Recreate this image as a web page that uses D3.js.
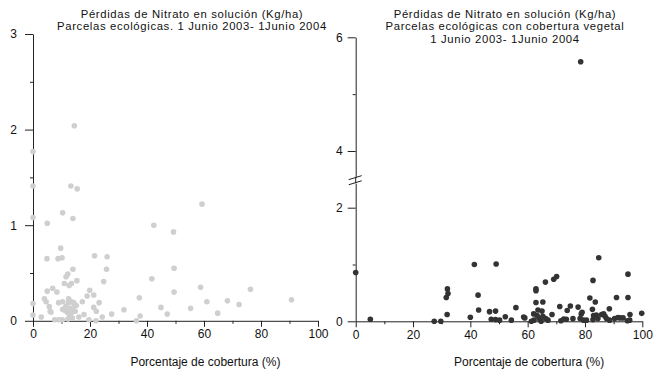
<!DOCTYPE html>
<html lang="es">
	<head>
		<meta charset="utf-8">
		<title>Pérdidas de Nitrato en solución</title>
		<script type="text/javascript" src="https://cdn.jsdelivr.net/npm/d3@7"></script>
		<style type="text/css">
			body { margin: 0; background: #fff; }
			text { font-family: "Liberation Sans", Arial, sans-serif; fill: #111; }
			.axis path, .axis line { stroke: #222; stroke-width: 1; }
		</style>
	</head>
	<body>
		<script type="text/javascript">

			//Width and height
			var w = 666;
			var h = 374;

			// Left panel: parcelas ecológicas (cobertura %, kg/ha)
			var leftX = [0, 14.5, 0, 13.3, 15.5, 59.3, 0, 10.4, 5, 14, 42.4, 49.3, 9.7, 4.9, 8.8, 10.2, 21.6, 26, 14, 25.8,
				49.5, 12.2, 11.6, 41.7, 15.4, 24.8, 11, 12.7, 13.5, 58.8, 76.3, 6.9, 5, 8.4, 19.9, 49.5, 19, 21.3, 37.3, 4,
				4.6, 90.7, 9, 10.4, 12.4, 13.5, 14.3, 17.3, 23.2, 61, 68.2, 72.3, 0, 14.5, 15.2, 5.7, 21.3, 44.9, 55.3, 10.4,
				11.2, 13, 14, 6, 6.3, 31.9, 22.2, 12, 13.3, 12.8, 27.6, 47.1, 64.8, 0, 2.9, 16.1, 17.9, 24.3, 37.6, 7.6,
				9.1, 10.3, 12.3, 13, 19.6, 22.1, 36.3, 11.5, 12.5, 14.8, 13.8];
			var leftY = [1.77, 2.04, 1.41, 1.41, 1.38, 1.22, 1.08, 1.13, 1.02, 1.07, 1.0, 0.93, 0.76, 0.65, 0.65, 0.66, 0.68, 0.67, 0.54, 0.54,
				0.55, 0.49, 0.46, 0.44, 0.42, 0.41, 0.39, 0.37, 0.39, 0.35, 0.33, 0.34, 0.31, 0.30, 0.32, 0.30, 0.26, 0.27, 0.24, 0.23,
				0.20, 0.22, 0.19, 0.20, 0.19, 0.20, 0.19, 0.20, 0.19, 0.20, 0.21, 0.17, 0.18, 0.17, 0.16, 0.15, 0.14, 0.14, 0.13, 0.12,
				0.11, 0.13, 0.12, 0.10, 0.09, 0.115, 0.10, 0.09, 0.075, 0.065, 0.07, 0.07, 0.08, 0.06, 0.04, 0.04, 0.065, 0.04, 0.05, 0.01,
				0.01, 0.01, 0.02, 0.04, 0.01, 0.0, 0.0, 0.15, 0.23, 0.10, 0.03];

			// Right panel: parcelas ecológicas con cobertura vegetal
			var rightX = [0, 5.1, 27.4, 29.7, 32, 32.2, 31.6, 31.9, 40, 41.4, 42.7, 42.9, 49, 46.7, 47.3, 48.8, 48.8, 50.2, 52.2, 54.3,
				55.9, 58.6, 59, 61.3, 62.2, 62.9, 62.9, 62.9, 62.1, 63.3, 64, 64.7, 63.6, 65, 65.3, 66.2, 67.1, 66.3, 65.3, 68.5,
				69.1, 70.1, 71.2, 71.6, 72.6, 73.5, 73.8, 74.9, 75.8, 77.6, 78.7, 79, 78.3, 79.5, 80.5, 81.7, 82.8, 82.6, 83, 83.95,
				83.6, 84.8, 84.5, 82.8, 85.8, 86.5, 87, 87.5, 88.5, 88.6, 90.35, 91.5, 92.3, 93.3, 91, 95, 95, 94.8, 95.6, 95.7,
				99.8, 78.5];
			var rightY = [0.86, 0.035, 0, 0, 0.57, 0.49, 0.42, 0.12, 0.07, 1.0, 0.46, 0.2, 1.01, 0.17, 0.035, 0.18, 0.03, 0.02, 0.08, 0.02,
				0.24, 0.076, 0.06, 0, 0.02, 0.57, 0.54, 0.33, 0.13, 0.1, 0.05, 0, 0.2, 0.18, 0.34, 0.69, 0.02, 0.05, 0.09, 0.12,
				0.74, 0.79, 0.26, 0.01, 0.04, 0.035, 0.19, 0.27, 0.047, 0.25, 0.13, 0.16, 0.05, 0.02, 0.02, 0.41, 0.72, 0.21, 0.1, 0.11,
				0.34, 1.12, 0.05, 0.03, 0.12, 0.13, 0.09, 0.05, 0.22, 0.02, 0.05, 0.065, 0.06, 0.06, 0.42, 0.83, 0.42, 0.01, 0.02, 0.12,
				0.14, 5.57];

			// Tick values
			var xMajor = [0, 20, 40, 60, 80, 100];
			var xMinor = [10, 30, 50, 70, 90];
			var leftYMajor = [0, 1, 2, 3];
			var leftYMinor = [0.5, 1.5, 2.5];
			var rightLowMajor = [0, 2];
			var rightLowMinor = [1];
			var rightHighMajor = [4, 6];
			var rightHighMinor = [5];

			var leftTitle = ["Pérdidas de Nitrato en solución (Kg/ha)", "Parcelas ecológicas. 1 Junio 2003- 1Junio 2004"];
			var rightTitle = ["Pérdidas de Nitrato en solución (Kg/ha)", "Parcelas ecológicas con cobertura vegetal", "1 Junio 2003- 1Junio 2004"];
			var xTitle = "Porcentaje de cobertura (%)";

			var svg = d3.select("body")
						.append("svg")
						.attr("width", w)
						.attr("height", h);

			var fmt = d3.format("d");

			//Scales
			var xL = d3.scaleLinear().domain([0, 100]).range([33, 318]);
			var yL = d3.scaleLinear().domain([0, 3]).range([320.8, 34]);
			var xR = d3.scaleLinear().domain([0, 100]).range([355.7, 642.3]);
			// broken y axis on the right panel
			var yRLow = d3.scaleLinear().domain([0, 2]).range([321.3, 207.7]);
			var yRHigh = d3.scaleLinear().domain([4, 6]).range([151, 37.3]);
			var breakLow = 2.43, breakHigh = 3.54;

			// draws an x axis with major (labelled) and minor ticks
			function drawX(x, y0) {
				svg.append("g").attr("class", "axis")
					.attr("transform", "translate(0," + y0 + ")")
					.call(d3.axisBottom(x).tickValues(xMajor).tickFormat(fmt).tickSize(6).tickSizeOuter(0).tickPadding(3))
					.call(function(g) { g.selectAll("text").style("font-size", "12px"); });
				svg.append("g").attr("class", "axis")
					.attr("transform", "translate(0," + y0 + ")")
					.call(d3.axisBottom(x).tickValues(xMinor).tickSize(3).tickSizeOuter(0).tickFormat(""))
					.call(function(g) { g.select(".domain").remove(); });
				svg.append("text")
					.attr("x", x(60.5))
					.attr("y", 366)
					.attr("text-anchor", "middle")
					.style("font-size", "12px")
					.text(xTitle);
			}

			// draws a y axis segment
			function drawY(y, x0, major, minor, pad) {
				svg.append("g").attr("class", "axis")
					.attr("transform", "translate(" + x0 + ",0)")
					.call(d3.axisLeft(y).tickValues(major).tickFormat(fmt).tickSize(8).tickSizeOuter(0).tickPadding(pad))
					.call(function(g) { g.selectAll("text").style("font-size", "12px"); });
				svg.append("g").attr("class", "axis")
					.attr("transform", "translate(" + x0 + ",0)")
					.call(d3.axisLeft(y).tickValues(minor).tickSize(3).tickSizeOuter(0).tickFormat(""))
					.call(function(g) { g.select(".domain").remove(); });
			}

			function drawTitle(lines, cx) {
				svg.append("g").selectAll("text")
					.data(lines)
					.enter()
					.append("text")
					.attr("x", cx)
					.attr("y", function(d, i) { return 17.5 + i * 12.6; })
					.attr("text-anchor", "middle")
					.style("font-size", "11.3px")
					.style("letter-spacing", "0.65px")
					.text(function(d) { return d; });
			}

			//----- Left panel
			drawY(yL, xL(0), leftYMajor, leftYMinor, 8);
			drawX(xL, yL(0));
			drawTitle(leftTitle, 192);

			svg.append("g").selectAll("circle")
				.data(d3.range(leftX.length))
				.enter()
				.append("circle")
				.attr("cx", function(i) { return xL(leftX[i]); })
				.attr("cy", function(i) { return yL(leftY[i]); })
				.attr("r", 2.8)
				.style("fill", "#cfcfcf");

			//----- Right panel
			var lowScale = yRLow.copy().domain([0, breakLow]).range([yRLow(0), yRLow(breakLow)]);
			var highScale = yRHigh.copy().domain([breakHigh, 6]).range([yRHigh(breakHigh), yRHigh(6)]);
			drawY(lowScale, xR(0), rightLowMajor, rightLowMinor, 5);
			drawY(highScale, xR(0), rightHighMajor, rightHighMinor, 5);
			drawX(xR, yRLow(0));
			drawTitle(rightTitle, 505);

			// gap line between the two segments and the break marks
			var x0 = xR(0);
			svg.append("line")
				.attr("x1", x0).attr("x2", x0)
				.attr("y1", yRLow(breakLow)).attr("y2", yRHigh(breakHigh))
				.style("stroke", "#222");
			[yRHigh(breakHigh) + 0.5, yRLow(breakLow) - 0.5].forEach(function(yb) {
				svg.append("line")
					.attr("x1", x0 - 7).attr("y1", yb + 2)
					.attr("x2", x0 + 6).attr("y2", yb - 2)
					.style("stroke", "#222");
			});

			svg.append("g").selectAll("circle")
				.data(d3.range(rightX.length))
				.enter()
				.append("circle")
				.attr("cx", function(i) { return xR(rightX[i]); })
				.attr("cy", function(i) {
					var v = rightY[i];
					return v > breakLow ? yRHigh(v) : yRLow(v);
				})
				.attr("r", 2.8)
				.style("fill", "#333");

		</script>
	</body>
</html>
